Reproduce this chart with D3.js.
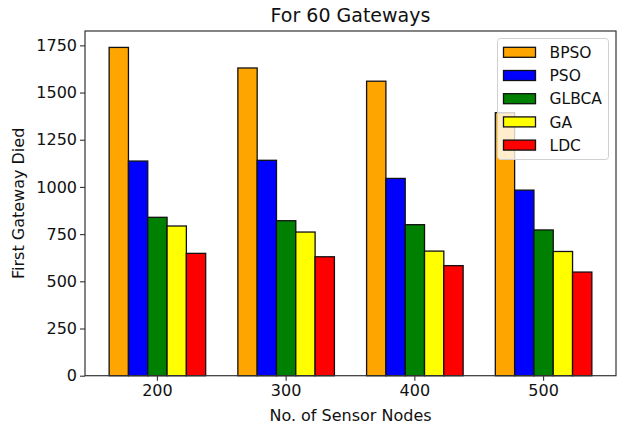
<!DOCTYPE html>
<html>
<head>
<meta charset="utf-8">
<script src="https://cdn.jsdelivr.net/npm/d3@7"></script>
<style>
  html, body { margin: 0; padding: 0; background: #fff; }
  svg { display: block; font-family: "DejaVu Sans", sans-serif; }
</style>
</head>
<body>
<svg id="chart" width="617" height="426"></svg>
<script>
const categories = ["200", "300", "400", "500"];
const seriesNames = ["BPSO", "PSO", "GLBCA", "GA", "LDC"];
const seriesColors = ["#FFA500", "#0000FF", "#008000", "#FFFF00", "#FF0000"];
const BPSO  = [1739, 1630, 1560, 1393];
const PSO   = [1137, 1141, 1045, 983];
const GLBCA = [839, 821, 800, 772];
const GA    = [793, 761, 660, 658];
const LDC   = [648, 630, 583, 549];
const seriesValues = [BPSO, PSO, GLBCA, GA, LDC];
const yTicks = [0, 250, 500, 750, 1000, 1250, 1500, 1750];

const svg = d3.select("#chart");
const m = { left: 85, right: 616, top: 31, bottom: 375.7 };

const x = d3.scaleBand().domain(categories).range([m.left, m.right])
  .paddingInner(0.25).paddingOuter(0.1875).align(0.5);
const xs = d3.scaleBand().domain(seriesNames).range([0, x.bandwidth()]).padding(0);
const yMax = d3.max(seriesValues.flat()) * 1.05;
const y = d3.scaleLinear().domain([0, yMax]).range([m.bottom, m.top]);

// bars
seriesNames.forEach((name, si) => {
  svg.append("g").selectAll("rect")
    .data(categories.map((c, ci) => ({ c, v: seriesValues[si][ci] })))
    .join("rect")
    .attr("x", d => x(d.c) + xs(name))
    .attr("y", d => y(d.v))
    .attr("width", xs.bandwidth())
    .attr("height", d => y(0) - y(d.v))
    .attr("fill", seriesColors[si])
    .attr("stroke", "#111")
    .attr("stroke-width", 1.3);
});

// frame
svg.append("rect")
  .attr("x", m.left).attr("y", m.top)
  .attr("width", m.right - m.left).attr("height", m.bottom - m.top)
  .attr("fill", "none").attr("stroke", "#333").attr("stroke-width", 1.2);

// axes
const xAxis = svg.append("g").attr("transform", `translate(0,${m.bottom})`)
  .call(d3.axisBottom(x).tickSize(5).tickPadding(4));
const yAxis = svg.append("g").attr("transform", `translate(${m.left},0)`)
  .call(d3.axisLeft(y).tickValues(yTicks).tickFormat(d3.format("d")).tickSize(5).tickPadding(3));
[xAxis, yAxis].forEach(a => {
  a.select(".domain").remove();
  a.selectAll(".tick line").attr("stroke", "#333").attr("stroke-width", 1.1);
  a.selectAll(".tick text").attr("fill", "#111").style("font-size", "16px")
    .style("font-family", "'DejaVu Sans', sans-serif");
});

// title and labels
svg.append("text").attr("x", (m.left + m.right) / 2).attr("y", 22)
  .attr("text-anchor", "middle").style("font-size", "19px").attr("fill", "#111")
  .text("For 60 Gateways");
svg.append("text").attr("x", (m.left + m.right) / 2).attr("y", 420.5)
  .attr("text-anchor", "middle").style("font-size", "16px").attr("fill", "#111")
  .text("No. of Sensor Nodes");
svg.append("text")
  .attr("transform", `translate(24,${(m.top + m.bottom) / 2}) rotate(-90)`)
  .attr("text-anchor", "middle").style("font-size", "16px").attr("fill", "#111")
  .text("First Gateway Died");

// legend
const lg = svg.append("g");
lg.append("rect").attr("x", 497.5).attr("y", 38.5).attr("width", 111).attr("height", 121)
  .attr("rx", 3).attr("fill", "rgba(255,255,255,0.8)").attr("stroke", "#d0d0d0").attr("stroke-width", 1);
seriesNames.forEach((name, i) => {
  const cy = 52.3 + i * 23.2;
  lg.append("rect").attr("x", 503.5).attr("y", cy - 5).attr("width", 32).attr("height", 10)
    .attr("fill", seriesColors[i]).attr("stroke", "#111").attr("stroke-width", 1.3);
  lg.append("text").attr("x", 549.5).attr("y", cy + 5.6)
    .style("font-size", "15.5px").attr("fill", "#111").text(name);
});
</script>
</body>
</html>
